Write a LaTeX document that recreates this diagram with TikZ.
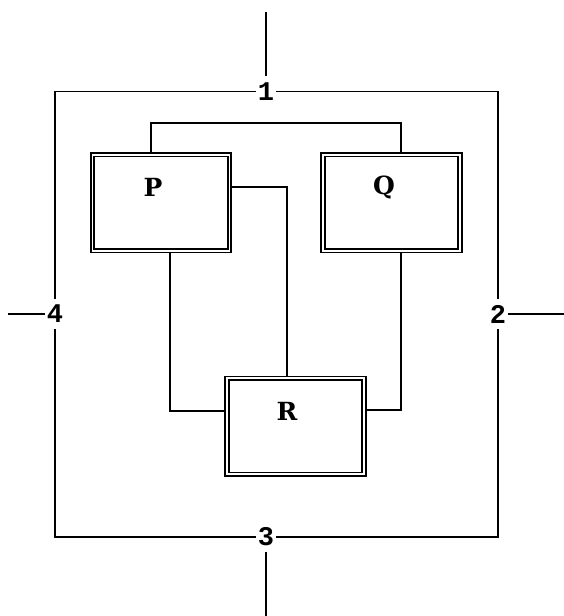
\documentclass[tikz,border=0pt]{standalone}
\usepackage{fontspec}
\usepackage{tikz}
\usetikzlibrary{positioning}
\newfontfamily\markfont{Liberation Mono}
\newfontfamily\unitfont{DejaVu Serif}

\tikzset{
  unit/.style={draw,double,line width=1.8pt,double distance=1.6pt,
               minimum width=137pt,minimum height=96pt,inner sep=0pt,outer sep=2.6pt},
  tag/.style={font=\unitfont\bfseries\fontsize{25}{25}\selectfont,inner sep=0pt},
  port/.style={font=\markfont\bfseries\fontsize{27}{27}\selectfont,inner xsep=2pt,inner ysep=6pt},
  wire/.style={line width=1.8pt}
}

\begin{document}
\begin{tikzpicture}[x=1pt,y=-1pt]
  \useasboundingbox (0,0) rectangle (564,616);

  % the three units
  \node[unit] (P) at (161,202.7) {};
  \node[unit] (Q) at (391.5,202.7) {};
  \node[unit] (R) at (295.5,426.2) {};
  \node[tag] (Pt) at (153,187.8) {P};
  \node[tag] (Qt) at (384,187.8) {Q};
  \node[tag] (Rt) at (287,411.8) {R};

  % ports on the frame
  \node[port] (n1) at (266,91.5) {1};
  \node[port] (n2) at (498,314) {2};
  \node[port] (n3) at (266,537) {3};
  \node[port] (n4) at (55,314) {4};

  \coordinate (top) at (266,11.8);
  \coordinate (bot) at (266,616);
  \coordinate (lft) at (8,314);
  \coordinate (rgt) at (564,314);

  % frame and stubs
  \draw[wire] (n1.west) -| (n4.north);
  \draw[wire] (n4.south) |- (n3.west);
  \draw[wire] (n3.east) -| (n2.south);
  \draw[wire] (n2.north) |- (n1.east);
  \draw[wire] (n1.north) -- (top);
  \draw[wire] (n3.south) -- (bot);
  \draw[wire] (n4.west) -- (lft);
  \draw[wire] (n2.east) -- (rgt);

  % links between units
  \coordinate (pq1) at (151,123);
  \coordinate (pq2) at (401,123);
  \coordinate (pr) at (287,186.6);
  \coordinate (pl) at (170,410.6);
  \coordinate (qr) at (401,410);

  \draw[wire] (P.north -| pq1) -- (pq1) -- (pq2) -- (Q.north -| pq2);
  \draw[wire] (P.east |- pr) -- (pr) -- (R.north -| pr);
  \draw[wire] (P.south -| pl) -- (pl) -- (R.west |- pl);
  \draw[wire] (Q.south -| qr) -- (qr) -- (R.east |- qr);
\end{tikzpicture}
\end{document}
